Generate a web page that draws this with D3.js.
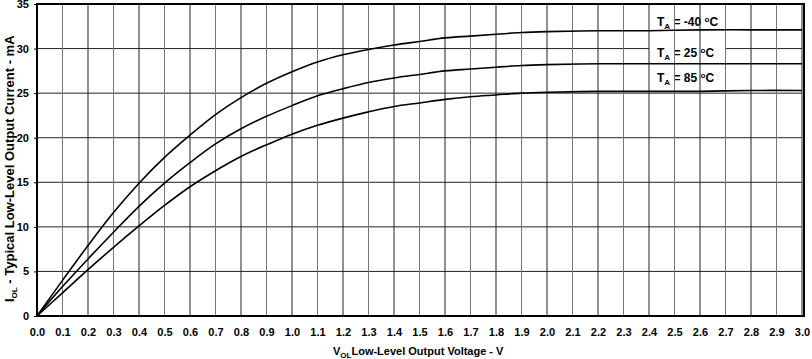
<!DOCTYPE html>
<html><head><meta charset="utf-8">
<script src="https://cdn.jsdelivr.net/npm/d3@7"></script>
<style>body{margin:0;background:#fff}svg{display:block;font-family:"Liberation Sans",Arial,sans-serif}</style>
</head><body><svg id="c" width="812" height="359"></svg>
<script>
const voltage = [0,0.1,0.2,0.3,0.4,0.5,0.6,0.7,0.8,0.9,1.0,1.1,1.2,1.3,1.4,1.5,1.6,1.7,1.8,1.9,2.0,2.2,2.4,2.6,2.8,3.0];
const iolM40 = [0,4.0,7.9,11.6,14.9,17.8,20.3,22.6,24.5,26.1,27.4,28.5,29.3,29.9,30.4,30.8,31.2,31.4,31.6,31.8,31.9,32.0,32.0,32.1,32.1,32.1];
const iol25  = [0,3.3,6.4,9.4,12.3,14.9,17.2,19.3,21.0,22.4,23.6,24.7,25.5,26.2,26.7,27.1,27.5,27.7,27.9,28.1,28.2,28.3,28.3,28.3,28.3,28.3];
const iol85  = [0,2.6,5.2,7.7,10.1,12.4,14.5,16.3,17.9,19.2,20.4,21.4,22.2,22.9,23.5,23.9,24.3,24.6,24.8,25.0,25.1,25.2,25.2,25.2,25.3,25.3];
const seriesNames = ["-40", "25", "85"];
const xTicks = d3.range(0, 31).map(i => i / 10);
const yTicks = [0,5,10,15,20,25,30,35];
const xTitleMain = "Low-Level Output Voltage - V";
const yTitleMain = " - Typical Low-Level Output Current - mA";

const svg = d3.select("#c");
const x = d3.scaleLinear().domain([0, 3]).range([37, 802]);
const y = d3.scaleLinear().domain([0, 35]).range([316, 4]);

// horizontal grid
svg.append("g").selectAll("line").data(yTicks).join("line")
  .attr("x1", x(0)).attr("x2", x(3)).attr("y1", d => y(d)).attr("y2", d => y(d))
  .attr("stroke", "#222").attr("stroke-width", 1);

// label boxes
const series = [iolM40, iol25, iol85];
const labelY = [22, 53, 78];
const lg = svg.append("g");
seriesNames.forEach((n, i) => {
  lg.append("rect").attr("x", 649).attr("y", labelY[i] - 10).attr("width", 76).attr("height", 20).attr("fill", "#fff");
});

// vertical grid
svg.append("g").selectAll("line").data(xTicks).join("line")
  .attr("x1", d => x(d)).attr("x2", d => x(d)).attr("y1", y(35)).attr("y2", y(0))
  .attr("stroke", (d, i) => i % 2 ? "#777" : "#222").attr("stroke-width", 1);

// curves
const line = d3.line().x((d, i) => x(voltage[i])).y(d => y(d)).curve(d3.curveCatmullRom);
series.forEach(s => {
  svg.append("path").attr("d", line(s)).attr("fill", "none").attr("stroke", "#000").attr("stroke-width", 1.6);
});

// frame
svg.append("rect").attr("x", x(0)).attr("y", y(35)).attr("width", 804 - x(0)).attr("height", y(0) - y(35))
  .attr("fill", "none").attr("stroke", "#000").attr("stroke-width", 2);

// labels
seriesNames.forEach((n, i) => {
  const t = lg.append("text").attr("x", 657).attr("y", labelY[i] + 4)
    .attr("font-size", 12).attr("font-weight", "bold");
  t.append("tspan").text("T");
  t.append("tspan").attr("font-size", 8).attr("dy", 3).text("A");
  t.append("tspan").attr("dy", -3).text(" = " + n + " ");
  t.append("tspan").attr("font-size", 8).attr("dy", -4).text("o");
  t.append("tspan").attr("dy", 4).text("C");
});

// y axis
const ya = svg.append("g").attr("transform", `translate(${x(0)},0)`)
  .call(d3.axisLeft(y).tickValues(yTicks).tickSize(3).tickPadding(5).tickFormat(d3.format("d")));
ya.select(".domain").remove();
ya.selectAll("text").attr("font-size", 11).attr("font-weight", "bold").attr("font-family", "Liberation Sans, Arial").attr("fill", "#000");

// x axis
const xa = svg.append("g").attr("transform", `translate(0,${y(0)})`)
  .call(d3.axisBottom(x).tickValues(xTicks).tickSize(0).tickPadding(12).tickFormat(d3.format(".1f")));
xa.select(".domain").remove();
xa.selectAll("text").attr("font-size", 11).attr("font-weight", "bold").attr("font-family", "Liberation Sans, Arial").attr("fill", "#000");

// x title
const xt = svg.append("text").attr("x", 333).attr("y", 355).attr("font-size", 11).attr("font-weight", "bold");
xt.append("tspan").text("V");
xt.append("tspan").attr("font-size", 8).attr("dy", 3).text("OL");
xt.append("tspan").attr("dy", -3).text(xTitleMain);

// y title
const yt = svg.append("text").attr("transform", "translate(14,302) rotate(-90)").attr("font-size", 13).attr("font-weight", "bold");
yt.append("tspan").text("I");
yt.append("tspan").attr("font-size", 8).attr("dy", 3).text("OL");
yt.append("tspan").attr("dy", -3).text(yTitleMain);
</script></body></html>
